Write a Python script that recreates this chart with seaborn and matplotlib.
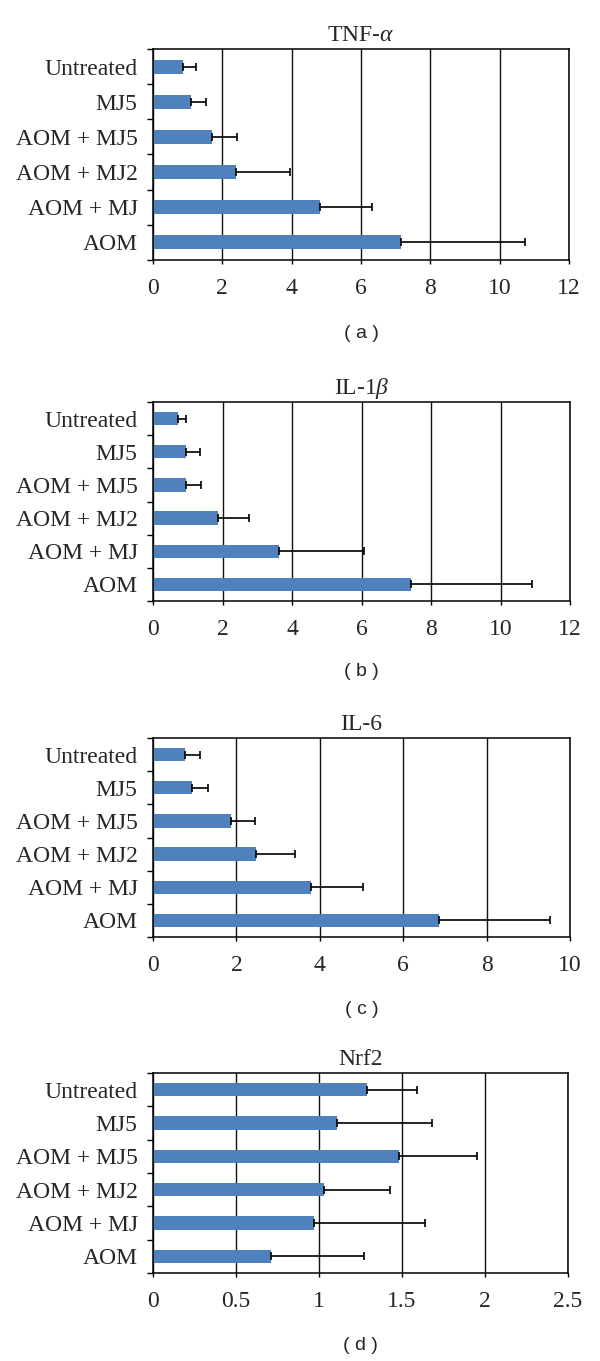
import numpy as np
import pandas as pd
import matplotlib
matplotlib.use('Agg')
import matplotlib.pyplot as plt
import seaborn as sns
from matplotlib.ticker import FixedLocator

sns.set_style('ticks')
plt.rcParams['font.family'] = ['Liberation Serif', 'DejaVu Serif']
plt.rcParams['mathtext.fontset'] = 'custom'
plt.rcParams['mathtext.rm'] = 'Liberation Serif'
plt.rcParams['mathtext.it'] = 'Liberation Serif:italic'

# 分组（从上到下）
groups = ['Untreated', 'MJ5', 'AOM + MJ5', 'AOM + MJ2', 'AOM + MJ', 'AOM']

# 各指标均值与误差
tnf_mean = [0.86, 1.10, 1.69, 2.39, 4.82, 7.15]
tnf_err = [0.37, 0.43, 0.73, 1.57, 1.49, 3.59]

il1b_mean = [0.73, 0.95, 0.96, 1.88, 3.63, 7.43]
il1b_err = [0.22, 0.39, 0.43, 0.88, 2.44, 3.49]

il6_mean = [0.76, 0.94, 1.88, 2.47, 3.78, 6.85]
il6_err = [0.37, 0.37, 0.57, 0.94, 1.26, 2.67]

nrf2_mean = [1.29, 1.11, 1.48, 1.03, 0.97, 0.71]
nrf2_err = [0.30, 0.57, 0.47, 0.40, 0.67, 0.56]

titles = ['TNF-$\\alpha$', 'IL-1$\\beta$', 'IL-6', 'Nrf2']
panel_tags = ['( a )', '( b )', '( c )', '( d )']
x_ticks = [[0, 2, 4, 6, 8, 10, 12], [0, 2, 4, 6, 8, 10, 12],
           [0, 2, 4, 6, 8, 10], [0, 0.5, 1, 1.5, 2, 2.5]]
x_ticklabels = [['0', '2', '4', '6', '8', '10', '12'],
                ['0', '2', '4', '6', '8', '10', '12'],
                ['0', '2', '4', '6', '8', '10'],
                ['0', '0.5', '1', '1.5', '2', '2.5']]

means = [tnf_mean, il1b_mean, il6_mean, nrf2_mean]
errs = [tnf_err, il1b_err, il6_err, nrf2_err]

W, H = 600, 1361
fig = plt.figure(figsize=(W / 100, H / 100), dpi=100)

# 每个面板的像素位置 (left, top, right, bottom)
boxes = [(153, 49, 569, 260), (153, 402, 570, 601),
         (153, 738, 570, 937), (153, 1073, 568, 1273)]
tag_y = [333, 672, 1010, 1345]

bar_color = '#4F81BD'

for i in range(4):
    l, t, r, b = boxes[i]
    ax = fig.add_axes([l / W, 1 - b / H, (r - l) / W, (b - t) / H])
    df = pd.DataFrame({'group': groups, 'value': means[i]})
    sns.barplot(data=df, x='value', y='group', orient='h', color=bar_color,
                width=0.4, errorbar=None, saturation=1, linewidth=0, ax=ax)
    # 单侧误差线
    ax.errorbar(means[i], np.arange(len(groups)),
                xerr=[np.zeros(len(groups)), errs[i]],
                fmt='none', ecolor='black', elinewidth=1.2,
                capsize=3, capthick=1.2, zorder=4)
    ax.set_xlim(x_ticks[i][0], x_ticks[i][-1])
    ax.set_ylim(len(groups) - 0.5, -0.5)
    ax.set_xticks(x_ticks[i])
    ax.set_xticklabels(x_ticklabels[i])
    ax.xaxis.grid(True, color='#111111', linewidth=1.0)
    ax.set_axisbelow(True)
    ax.yaxis.set_minor_locator(FixedLocator(np.arange(-0.5, len(groups), 1.0)))
    ax.tick_params(axis='y', which='major', length=0, pad=11, labelsize=17)
    ax.tick_params(axis='y', which='minor', length=4, width=1.0,
                   direction='out', color='black')
    ax.tick_params(axis='x', which='major', length=3, width=1.0,
                   direction='out', pad=10, labelsize=17, color='black')
    for s in ax.spines.values():
        s.set_visible(True)
        s.set_color('black')
        s.set_linewidth(1.1)
    ax.set_xlabel('')
    ax.set_ylabel('')
    ax.set_title(titles[i], fontsize=17, pad=6)
    fig.text(((l + r) / 2) / W, 1 - tag_y[i] / H, panel_tags[i],
             family='Liberation Sans', fontsize=14, ha='center', va='center')

fig.savefig('out.png', dpi=100)
